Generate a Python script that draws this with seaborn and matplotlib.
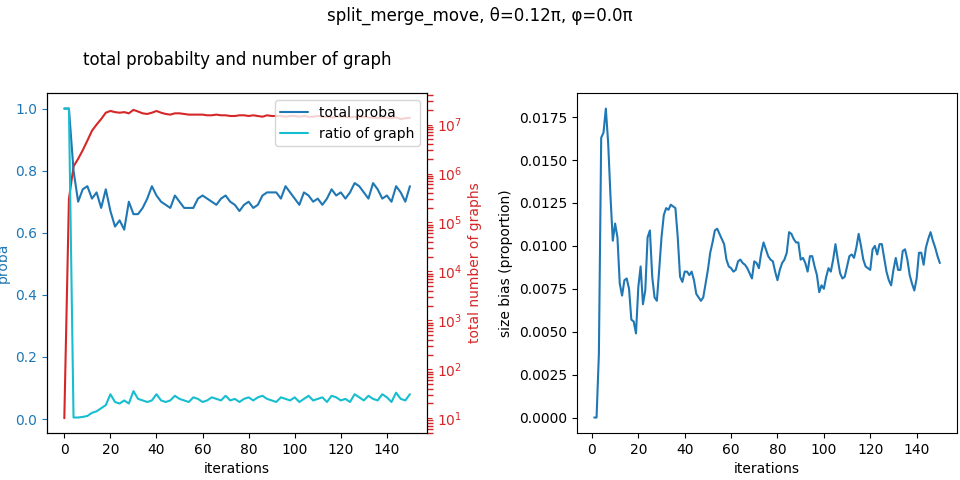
import numpy as np
import matplotlib
matplotlib.use("Agg")
import matplotlib.pyplot as plt
from matplotlib.ticker import MultipleLocator
import seaborn as sns

sns.set_theme(style="ticks", rc={
    "font.size": 10, "axes.labelsize": 10, "xtick.labelsize": 10,
    "ytick.labelsize": 10, "legend.fontsize": 10, "axes.titlesize": 12,
    "lines.linewidth": 1.5, "text.color": "black", "axes.labelcolor": "black",
    "xtick.color": "black", "ytick.color": "black", "axes.edgecolor": "black",
    "axes.linewidth": 0.8, "xtick.major.width": 0.8, "ytick.major.width": 0.8,
    "xtick.major.size": 3.5, "ytick.major.size": 3.5,
})
plt.rcParams["font.family"] = ["DejaVu Sans"]

# ── Data ──────────────────────────────────────────────────────────────────────
iters_left = np.arange(0, 151, 2)
total_proba = [1.0, 1.0, 0.80, 0.70, 0.74, 0.75, 0.71, 0.73, 0.68, 0.74,
               0.67, 0.62, 0.64, 0.61, 0.70, 0.66, 0.66, 0.68, 0.71, 0.75,
               0.72, 0.70, 0.69, 0.68, 0.72, 0.70, 0.68, 0.68, 0.68, 0.71,
               0.72, 0.71, 0.70, 0.69, 0.71, 0.72, 0.70, 0.69, 0.67, 0.69,
               0.70, 0.68, 0.69, 0.72, 0.73, 0.73, 0.73, 0.71, 0.75, 0.73,
               0.71, 0.69, 0.73, 0.72, 0.70, 0.71, 0.69, 0.71, 0.74, 0.72,
               0.73, 0.71, 0.73, 0.76, 0.75, 0.73, 0.71, 0.76, 0.74, 0.71,
               0.72, 0.70, 0.75, 0.73, 0.70, 0.75]
ratio_graph = [1.0, 1.0, 0.005, 0.005, 0.007, 0.01, 0.02, 0.025, 0.035, 0.045,
               0.08, 0.055, 0.05, 0.06, 0.05, 0.09, 0.065, 0.06, 0.055, 0.06,
               0.08, 0.06, 0.055, 0.06, 0.075, 0.065, 0.06, 0.055, 0.07, 0.065,
               0.055, 0.06, 0.07, 0.065, 0.06, 0.075, 0.06, 0.065, 0.055, 0.065,
               0.07, 0.06, 0.07, 0.075, 0.065, 0.06, 0.055, 0.07, 0.065, 0.06,
               0.07, 0.055, 0.065, 0.075, 0.06, 0.065, 0.07, 0.055, 0.075, 0.07,
               0.06, 0.065, 0.055, 0.08, 0.07, 0.06, 0.075, 0.065, 0.06, 0.08,
               0.07, 0.055, 0.085, 0.065, 0.06, 0.08]
n_graphs = [1e1, 3e5, 1.4e6, 2e6, 3e6, 4.7e6, 7.5e6, 1e7, 1.3e7, 1.75e7,
            1.9e7, 1.8e7, 1.75e7, 1.8e7, 1.7e7, 2e7, 1.85e7, 1.7e7, 1.65e7, 1.75e7,
            1.9e7, 1.75e7, 1.65e7, 1.6e7, 1.7e7, 1.7e7, 1.65e7, 1.6e7, 1.6e7, 1.6e7,
            1.6e7, 1.55e7, 1.55e7, 1.6e7, 1.55e7, 1.55e7, 1.5e7, 1.5e7, 1.55e7, 1.55e7,
            1.5e7, 1.55e7, 1.5e7, 1.45e7, 1.55e7, 1.5e7, 1.5e7, 1.5e7, 1.45e7, 1.5e7,
            1.5e7, 1.45e7, 1.5e7, 1.45e7, 1.45e7, 1.5e7, 1.45e7, 1.45e7, 1.4e7, 1.45e7,
            1.45e7, 1.45e7, 1.4e7, 1.45e7, 1.4e7, 1.45e7, 1.4e7, 1.4e7, 1.35e7, 1.4e7,
            1.4e7, 1.35e7, 1.4e7, 1.3e7, 1.35e7, 1.38e7]

size_bias = [0, 0, .0037, .0163, .0166, .0180, .0160, .0129, .0103, .0113,
             .0105, .0078, .0071, .0080, .0081, .0075, .0057, .0056, .0049, .0076,
             .0088, .0066, .0074, .0105, .0109, .0082, .0070, .0068, .0086, .0105,
             .0118, .0122, .0121, .0124, .0123, .0122, .0105, .0082, .0079, .0085,
             .0085, .0083, .0085, .0080, .0072, .0070, .0068, .0070, .0078, .0086,
             .0096, .0102, .0109, .0110, .0107, .0104, .0101, .0092, .0088, .0087,
             .0085, .0086, .0091, .0092, .0090, .0089, .0087, .0084, .0081, .0091,
             .0090, .0087, .0096, .0102, .0098, .0094, .0092, .0091, .0085, .0080,
             .0086, .0090, .0092, .0096, .0108, .0107, .0104, .0102, .0102, .0092,
             .0093, .0090, .0085, .0094, .0094, .0088, .0083, .0073, .0077, .0075,
             .0082, .0087, .0085, .0092, .0101, .0092, .0084, .0081, .0082, .0088,
             .0094, .0095, .0093, .0099, .0107, .0100, .0092, .0088, .0087, .0086,
             .0098, .0100, .0095, .0101, .0101, .0093, .0085, .0080, .0077, .0086,
             .0093, .0086, .0086, .0097, .0098, .0092, .0083, .0078, .0074, .0081,
             .0096, .0096, .0089, .0099, .0104, .0108, .0103, .0099, .0094, .0090]
iters_right = np.arange(1, len(size_bias) + 1)

# ── Figure ────────────────────────────────────────────────────────────────────
fig = plt.figure(figsize=(9.6, 4.8), dpi=100)
ax1 = fig.add_axes([0.049, 0.098, 0.396, 0.708])
ax3 = fig.add_axes([0.601, 0.098, 0.396, 0.708])

c_blue, c_cyan, c_red = "#1f77b4", "#17becf", "#d62728"

sns.lineplot(x=iters_left, y=total_proba, ax=ax1, color=c_blue, label="total proba")
sns.lineplot(x=iters_left, y=ratio_graph, ax=ax1, color=c_cyan, label="ratio of graph")
ax1.set_xlabel("iterations")
ax1.set_ylabel("proba", color=c_blue)
ax1.tick_params(axis="y", colors=c_blue)
ax1.xaxis.set_major_locator(MultipleLocator(20))
ax1.set_title("total probabilty and number of graph", pad=20)
ax1.legend(loc="upper right")

ax2 = ax1.twinx()
sns.lineplot(x=iters_left, y=n_graphs, ax=ax2, color=c_red)
ax2.set_yscale("log")
ax2.set_ylim(5, 4.4e7)
ax2.set_ylabel("total number of graphs", color=c_red)
ax2.tick_params(axis="y", which="both", colors=c_red)
ax1.set_zorder(ax2.get_zorder() + 1)
ax1.patch.set_visible(False)

sns.lineplot(x=iters_right, y=size_bias, ax=ax3, color=c_blue)
ax3.xaxis.set_major_locator(MultipleLocator(20))
ax3.set_xlabel("iterations")
ax3.set_ylabel("size bias (proportion)")

fig.suptitle("split_merge_move, θ=0.12π, φ=0.0π", y=0.985, fontsize=12)
fig.savefig("out.png", dpi=100)
